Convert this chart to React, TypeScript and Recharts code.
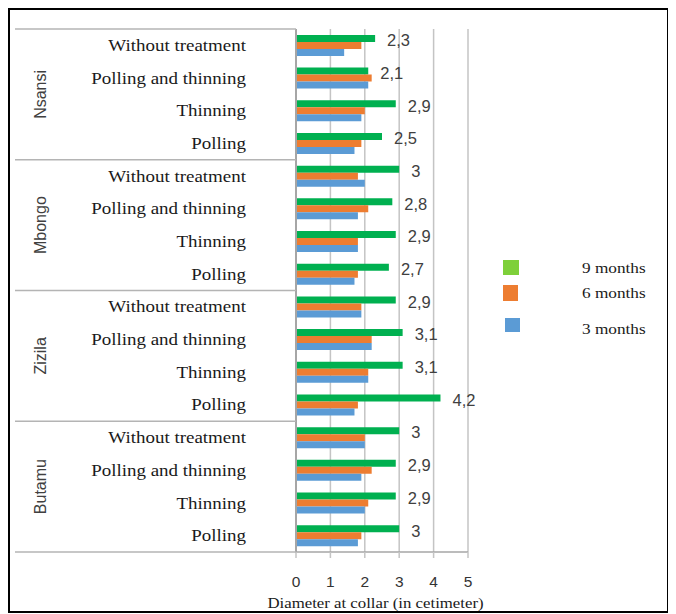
import React from 'react';
import {
  BarChart,
  Bar,
  XAxis,
  YAxis,
  CartesianGrid,
  Legend,
  LabelList,
} from 'recharts';

const sites = ['Nsansi', 'Mbongo', 'Zizila', 'Butamu'];
const treatments = ['Without treatment', 'Polling and thinning', 'Thinning', 'Polling'];

// diameter at collar (cm), one value per site x treatment, top to bottom
const months9 = [2.3, 2.1, 2.9, 2.5, 3.0, 2.8, 2.9, 2.7, 2.9, 3.1, 3.1, 4.2, 3.0, 2.9, 2.9, 3.0];
const months6 = [1.9, 2.2, 2.0, 1.9, 1.8, 2.1, 1.8, 1.8, 1.9, 2.2, 2.1, 1.8, 2.0, 2.2, 2.1, 1.9];
const months3 = [1.4, 2.1, 1.9, 1.7, 2.0, 1.8, 1.8, 1.7, 1.9, 2.2, 2.1, 1.7, 2.0, 1.9, 2.0, 1.8];

const xTicks = [0, 1, 2, 3, 4, 5];
const seriesNames = ['9 months', '6 months', '3 months'];

const data = sites.flatMap((site, s) =>
  treatments.map((t, k) => {
    const i = s * 4 + k;
    return {
      id: `${site}|${t}`,
      m9: months9[i],
      m6: months6[i],
      m3: months3[i],
    };
  })
);

const SERIF = '"Liberation Serif", "Times New Roman", serif';
const SANS = '"Liberation Sans", Arial, sans-serif';

const legendColors: Record<string, string> = {
  '9 months': '#7ED03A',
  '6 months': '#ED7D31',
  '3 months': '#5B9BD5',
};

function CategoryTick(props: any) {
  const { x, y, payload, index } = props;
  const half = payload.offset || 16.35;
  const [site, treatment] = String(payload.value).split('|');
  const k = index % 4;
  return (
    <g>
      {k === 0 && (
        <line x1={7} x2={x} y1={y - half} y2={y - half} stroke="#b4b4b4" strokeWidth={1.5} />
      )}
      {index === data.length - 1 && (
        <line x1={7} x2={x} y1={y + half} y2={y + half} stroke="#b4b4b4" strokeWidth={1.5} />
      )}
      {k === 1 && (
        <text
          transform={`translate(32,${y + half}) rotate(-90)`}
          textAnchor="middle"
          dominantBaseline="central"
          fontFamily={SANS}
          fontSize={16}
          fill="#404040"
        >
          {site}
        </text>
      )}
      <text
        transform={`translate(${x - 50},${y}) scale(1.15,1)`}
        textAnchor="end"
        dominantBaseline="central"
        fontFamily={SERIF}
        fontSize={16.5}
        fill="#1a1a1a"
      >
        {treatment}
      </text>
    </g>
  );
}

function renderLegend(props: any) {
  const rows = [
    { box: [15, 12, 16, 15], ty: 20 },
    { box: [15, 37, 15, 16], ty: 45 },
    { box: [17, 70, 15, 14], ty: 81 },
  ];
  const items = [...(props.payload || [])].sort(
    (a: any, b: any) => seriesNames.indexOf(a.value) - seriesNames.indexOf(b.value)
  );
  return (
    <svg width={180} height={100}>
      {items.map((entry: any, i: number) => {
        const r = rows[i];
        return (
          <g key={entry.value}>
            <rect x={r.box[0]} y={r.box[1]} width={r.box[2]} height={r.box[3]} fill={legendColors[entry.value]} />
            <text
              transform={`translate(94,${r.ty}) scale(1.15,1)`}
              dominantBaseline="central"
              fontFamily={SERIF}
              fontSize={15}
              fill="#1a1a1a"
            >
              {entry.value}
            </text>
          </g>
        );
      })}
    </svg>
  );
}

function AxisTitle(props: any) {
  const vb = props.viewBox;
  return (
    <text
      transform={`translate(${vb.x + vb.width / 2 - 6.5},${vb.y + 56}) scale(1.12,1)`}
      textAnchor="middle"
      fontFamily={SERIF}
      fontSize={15}
      fill="#1a1a1a"
    >
      Diameter at collar (in cetimeter)
    </text>
  );
}

const fmt = (v: any) => String(v).replace('.', ',');

export default function App() {
  return (
    <div style={{ position: 'relative', width: 661, height: 605 }}>
      <BarChart
        width={661}
        height={605}
        data={data}
        layout="vertical"
        margin={{ top: 21, right: 201, left: 0, bottom: 0 }}
        barCategoryGap="18%"
        barGap={0}
        style={{ position: 'absolute', left: 0, top: 0 }}
      >
        <CartesianGrid horizontal={false} stroke="#c4c4c4" strokeWidth={1.5} />
        <XAxis
          type="number"
          domain={[0, 5]}
          ticks={xTicks}
          height={61}
          tickSize={6}
          tickMargin={18}
          tick={{ fontFamily: SANS, fontSize: 15.5, fill: '#333' }}
          axisLine={{ stroke: '#a6a6a6', strokeWidth: 1.5 }}
          tickLine={{ stroke: '#c4c4c4', strokeWidth: 1.5 }}
          label={<AxisTitle />}
        />
        <YAxis
          type="category"
          dataKey="id"
          width={288}
          tickSize={0}
          tickMargin={0}
          tickLine={false}
          axisLine={{ stroke: '#a6a6a6', strokeWidth: 2 }}
          tick={(p: any) => <CategoryTick {...p} />}
          interval={0}
        />
        <Legend
          layout="vertical"
          align="center"
          verticalAlign="middle"
          content={renderLegend}
          wrapperStyle={{ left: 480, top: 240, width: 180, height: 100 }}
        />
        <Bar dataKey="m9" name="9 months" fill="#00B050" isAnimationActive={false}>
          <LabelList
            dataKey="m9"
            position="right"
            offset={12}
            formatter={fmt}
            style={{ fontFamily: SANS, fontSize: 16.5, fill: '#404040' }}
            dy={2}
          />
        </Bar>
        <Bar dataKey="m6" name="6 months" fill="#ED7D31" isAnimationActive={false} />
        <Bar dataKey="m3" name="3 months" fill="#5B9BD5" isAnimationActive={false} />
      </BarChart>
      <div
        style={{
          position: 'absolute',
          left: 0,
          top: 0,
          width: 661,
          height: 605,
          border: '2px solid #000',
          boxSizing: 'border-box',
          pointerEvents: 'none',
        }}
      />
    </div>
  );
}
